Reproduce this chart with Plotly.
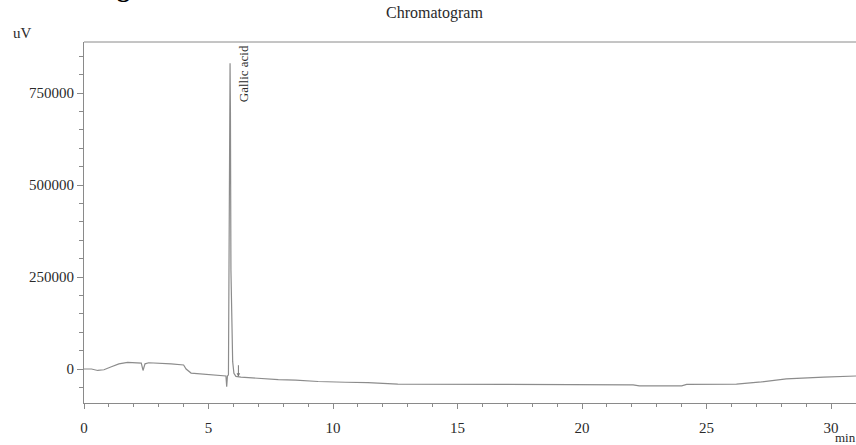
import plotly.graph_objects as go

# Retention time (min) and detector signal (uV)
time_min = [0, 0.3, 0.55, 0.8, 1.1, 1.4, 1.75, 2.2, 2.3, 2.37, 2.45, 2.6, 3.0, 3.5, 4.0, 4.1, 4.3,
            5.0, 5.6, 5.70, 5.73, 5.76, 5.80, 5.83, 5.85, 5.865, 5.88, 5.90, 5.93, 5.97, 6.02,
            6.1, 6.3, 6.7, 7.5, 7.8, 8.5, 9.4, 10.5, 11.4, 12.6, 13.5, 15, 18.3, 21.0, 22.05,
            22.3, 24.0, 24.2, 26.2, 27.2, 28.2, 29.7, 31.0]
signal_uv = [0, 0, -4000, -2000, 6000, 14000, 18000, 18000, 16000, -4000, 14000, 17000, 16000,
             14000, 11000, 0, -11000, -15000, -18000, -19000, -48000, -19000, -16000, 300000,
             700000, 831000, 700000, 270000, 100000, 20000, -12000, -20000, -22000, -24000,
             -26000, -29000, -30000, -34000, -36000, -37000, -41000, -41000, -42000, -42000,
             -43000, -43000, -46000, -46000, -42000, -41000, -35000, -27000, -22000, -19000]

peak_name = "Gallic acid"
peak_label_time = 6.4
peak_label_top = 885000
peak_end_time = 6.2
peak_end_value = -21000

x_ticks = [0, 5, 10, 15, 20, 25, 30]
y_ticks = [0, 250000, 500000, 750000]

FONT = "Liberation Serif"
AX = "#8a8a8a"
TXT = "#2a2a2a"

fig = go.Figure()
fig.add_trace(go.Scatter(x=time_min, y=signal_uv, mode="lines",
                         line=dict(color="#8c8c8c", width=1.2), showlegend=False,
                         hoverinfo="skip"))

fig.update_layout(
    width=856, height=445,
    margin=dict(l=84, r=0, t=42, b=42),
    paper_bgcolor="white", plot_bgcolor="white",
    font=dict(family=FONT, color=TXT, size=15),
    showlegend=False,
)

fig.update_xaxes(range=[0, 31.0], tickvals=x_ticks, ticktext=[str(v) for v in x_ticks],
                 showgrid=False, zeroline=False, showline=True, linecolor=AX, linewidth=1,
                 ticks="outside", ticklen=5, tickcolor=AX, tickwidth=1,
                 ticklabelstandoff=6,
                 minor=dict(dtick=1, ticks="outside", ticklen=3, tickcolor=AX, showgrid=False),
                 tickfont=dict(family=FONT, size=15, color=TXT))
fig.update_yaxes(range=[-92400, 888600], tickvals=y_ticks, ticktext=[str(v) for v in y_ticks],
                 showgrid=False, zeroline=False, showline=True, linecolor=AX, linewidth=1,
                 ticks="outside", ticklen=6, tickcolor=AX, tickwidth=1,
                 minor=dict(dtick=50000, tick0=0, ticks="outside", ticklen=4, tickcolor=AX,
                            showgrid=False),
                 tickfont=dict(family=FONT, size=15, color=TXT))

# top frame line
fig.add_shape(type="line", xref="paper", yref="paper", x0=0, x1=1, y0=1, y1=1,
              line=dict(color=AX, width=1))

# peak label
fig.add_annotation(x=peak_label_time, y=peak_label_top, text=peak_name, textangle=-90,
                   showarrow=False, xanchor="center", yanchor="top",
                   font=dict(family=FONT, size=13, color=TXT))
# peak end marker arrow
fig.add_annotation(x=peak_end_time, y=peak_end_value, ax=0, ay=-13, text="",
                   showarrow=True, arrowhead=2, arrowsize=0.7, arrowwidth=1, arrowcolor="#777777")

# title and unit labels
fig.add_annotation(xref="paper", yref="paper", x=(434 - 84) / 772, y=(403 - 13) / 361,
                   text="Chromatogram", showarrow=False, xanchor="center", yanchor="middle",
                   font=dict(family=FONT, size=16, color=TXT))
fig.add_annotation(xref="paper", yref="paper", x=(11 - 84) / 772, y=(403 - 33) / 361,
                   text="uV", showarrow=False, xanchor="left", yanchor="middle",
                   font=dict(family=FONT, size=15, color=TXT))
fig.add_annotation(xref="paper", yref="paper", x=(833 - 84) / 772, y=(403 - 437) / 361,
                   text="min", showarrow=False, xanchor="left", yanchor="middle",
                   font=dict(family=FONT, size=13, color=TXT))
# cropped caption above the chart (only its descender is visible)
fig.add_annotation(xref="paper", yref="paper", x=(92 - 84) / 772, y=(403 + 12) / 361,
                   text="<b>Fig</b>", showarrow=False, xanchor="left", yanchor="middle",
                   font=dict(family=FONT, size=26, color="#000000"))

fig.write_html("out.html")
